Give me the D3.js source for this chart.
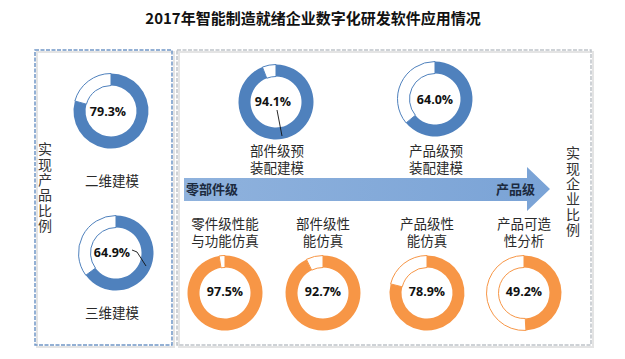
<!DOCTYPE html>
<html><head><meta charset="utf-8">
<script src="https://cdn.jsdelivr.net/npm/d3@7"></script>
<style>body{margin:0;background:#fff}svg{display:block}
.lbl{font-family:'Noto Sans CJK SC';font-size:13.5px;line-height:16.5px;color:#2a2a2a;text-align:center;white-space:pre;}
</style>
</head><body><svg id="c" width="625" height="359"></svg>
<script>
// ---- data ----
const title = "2017年智能制造就绪企业数字化研发软件应用情况";
const productCategories = ["二维建模", "三维建模"];
const productValues = [79.3, 64.9];
const enterpriseTopCategories = ["部件级预\n装配建模", "产品级预\n装配建模"];
const enterpriseTopValues = [94.1, 64.0];
const enterpriseBottomCategories = ["零件级性能\n与功能仿真", "部件级性\n能仿真", "产品级性\n能仿真", "产品可造\n性分析"];
const enterpriseBottomValues = [97.5, 92.7, 78.9, 49.2];
const leftSideLabel = "实现产品比例";
const rightSideLabel = "实现企业比例";
const arrowLabels = ["零部件级", "产品级"];

// ---- drawing ----
const svg = d3.select("#c");
const BLUE = "#4f81bd", ORANGE = "#f79646";
const defs = svg.append("defs");
const grad = defs.append("linearGradient").attr("id", "ag").attr("x1", 0).attr("x2", 1);
grad.append("stop").attr("offset", 0).attr("stop-color", "#8fb2dd");
grad.append("stop").attr("offset", 1).attr("stop-color", "#7aa3d6");

svg.append("text").attr("x", 313).attr("y", 24).attr("text-anchor", "middle")
  .attr("font-family", "'Noto Sans CJK SC'").attr("font-weight", "bold")
  .attr("font-size", 15).attr("fill", "#111").text(title);

// boxes (shadow + dashed)
function box(x, y, w, h, color) {
  svg.append("rect").attr("x", x + 2).attr("y", y + 2).attr("width", w).attr("height", h)
    .attr("fill", "none").attr("stroke", "#e4e4e4").attr("stroke-width", 2);
  svg.append("rect").attr("x", x).attr("y", y).attr("width", w).attr("height", h)
    .attr("fill", "none").attr("stroke", color).attr("stroke-width", 1.5)
    .attr("stroke-dasharray", "4,1.5");
}
box(177, 50, 414, 295, "#bfc3c9");
box(35, 50, 137, 295, "#7096c6");

// arrow
const ax0 = 184, ax1 = 527, ay0 = 178, ay1 = 201, hy0 = 167, hy1 = 211, tip = 550;
svg.append("path")
  .attr("d", d3.line()([[ax0, ay0], [ax1, ay0], [ax1, hy0], [tip, (hy0 + hy1) / 2], [ax1, hy1], [ax1, ay1], [ax0, ay1]]) + "Z")
  .attr("fill", "url(#ag)");
svg.append("text").attr("x", 186).attr("y", 194).text(arrowLabels[0])
  .attr("font-family", "'Noto Sans CJK SC'").attr("font-weight", "bold").attr("font-size", 13).attr("fill", "#1c2a3f");
svg.append("text").attr("x", 535).attr("y", 194).attr("text-anchor", "end").text(arrowLabels[1])
  .attr("font-family", "'Noto Sans CJK SC'").attr("font-weight", "bold").attr("font-size", 13).attr("fill", "#1c2a3f");

// vertical labels
function vtext(x, y0, str) {
  svg.append("text").attr("x", x).attr("y", y0)
    .attr("writing-mode", "vertical-rl").attr("letter-spacing", 1.3)
    .attr("font-family", "'Noto Sans CJK SC'").attr("font-size", 14)
    .attr("fill", "#333").text(str);
}
vtext(45, 142, leftSideLabel);
vtext(573, 146, rightSideLabel);

const pie = d3.pie().sort(null).value(d => d);
const arc = d3.arc().innerRadius(25.5).outerRadius(37.5);

function donut(cx, cy, value, color, label, labelPos, labelOff, leader) {
  const g = svg.append("g").attr("transform", `translate(${cx},${cy})`);
  const arcs = pie([value, 100 - value]);
  g.selectAll("path").data(arcs).join("path").attr("d", arc)
    .attr("fill", (d, i) => i === 0 ? color : "#fff")
    .attr("stroke", color).attr("stroke-width", (d, i) => i === 0 ? 0 : 1);
  if (leader) {
    g.append("path").attr("d", d3.line()(leader)).attr("fill", "none")
      .attr("stroke", "#111").attr("stroke-width", 0.9);
  }
  g.append("text").attr("x", labelOff[0]).attr("y", labelOff[1]).attr("text-anchor", "middle")
    .attr("dominant-baseline", "central").attr("font-family", "'Open Sans'")
    .attr("font-weight", "bold").attr("font-size", 12.5).attr("fill", "#111")
    .text(value.toFixed(1) + "%");
  const w = 100, nLines = label.split("\n").length;
  svg.append("foreignObject").attr("x", labelPos[0] - w / 2).attr("y", labelPos[1])
    .attr("width", w).attr("height", nLines * 16.5 + 4)
    .append("xhtml:div").attr("class", "lbl").text(label);
}

// product ratio donuts (labelPos = top of label block)
const pCenters = [[111, 111], [116, 253]];
const pLabelTop = [172, 304];
productValues.forEach((v, i) => donut(pCenters[i][0], pCenters[i][1], v, BLUE, productCategories[i],
  [112, pLabelTop[i]], i === 0 ? [-3, 0] : [-4, -1],
  i === 1 ? [[16, -3], [21, -1], [30, 13]] : null));

// enterprise top donuts
const tCenters = [[276, 102], [435, 99]];
enterpriseTopValues.forEach((v, i) => donut(tCenters[i][0], tCenters[i][1], v, BLUE, enterpriseTopCategories[i],
  [tCenters[i][0] + 1, 142], i === 0 ? [-3, -1] : [0, 0],
  i === 0 ? [[1, 8], [6, 34]] : null));

// enterprise bottom donuts
const bCenters = [[225, 293], [323, 293], [427, 293], [524, 293]];
enterpriseBottomValues.forEach((v, i) => donut(bCenters[i][0], bCenters[i][1], v, ORANGE, enterpriseBottomCategories[i],
  [bCenters[i][0], 215], [0, -2], null));
</script></body></html>
